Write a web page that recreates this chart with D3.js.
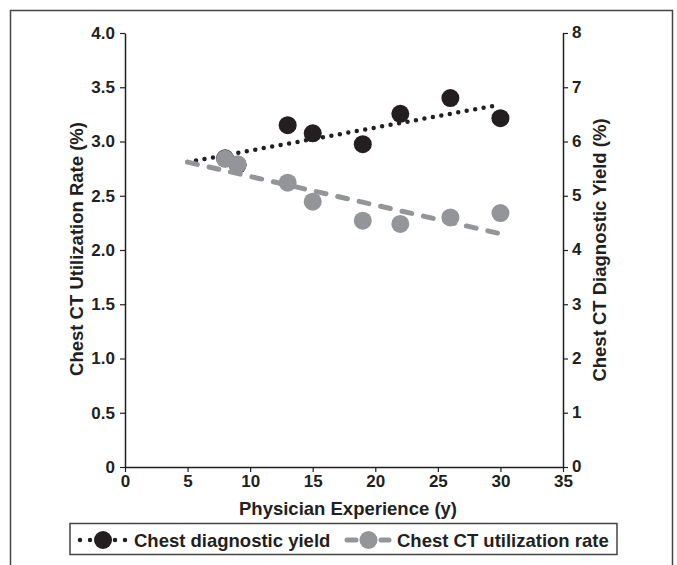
<!DOCTYPE html>
<html><head><meta charset="utf-8">
<script src="https://cdn.jsdelivr.net/npm/d3@7"></script>
<style>body{margin:0;background:#fff}svg{display:block}text{font-family:"Liberation Sans",Arial,Helvetica,sans-serif;font-weight:bold;fill:#231f20}</style>
</head><body>
<script>
const experience = [8, 9, 13, 15, 19, 22, 26, 30];
const diagnosticYield = [5.69, 5.57, 6.30, 6.15, 5.95, 6.51, 6.80, 6.43];
const utilizationRate = [2.84, 2.79, 2.62, 2.445, 2.27, 2.24, 2.30, 2.34];
const yieldTrend = [[5, 5.62], [30, 6.68]];
const rateTrend = [[5, 2.81], [30, 2.15]];
const xTicks = [0, 5, 10, 15, 20, 25, 30, 35];
const leftTicks = [0, 0.5, 1, 1.5, 2, 2.5, 3, 3.5, 4];
const rightTicks = [0, 1, 2, 3, 4, 5, 6, 7, 8];

const W = 677, H = 565;
const ink = "#231f20", grey = "#939598";
const FS = 18.5, TFS = 17;
const svg = d3.select("body").append("svg").attr("width", W).attr("height", H);

svg.append("rect").attr("x", 10.5).attr("y", 10.5).attr("width", 662).attr("height", 600)
  .attr("fill", "none").attr("stroke", "#444").attr("stroke-width", 1.5);

const x = d3.scaleLinear().domain([0, 35]).range([125, 563]);
const yL = d3.scaleLinear().domain([0, 4]).range([467, 33]);
const yR = d3.scaleLinear().domain([0, 8]).range([467, 33]);

function styleAxis(g) {
  g.selectAll(".domain").attr("stroke", ink).attr("stroke-width", 1.5);
  g.selectAll(".tick line").attr("stroke", ink).attr("stroke-width", 1.2);
  g.selectAll(".tick text").attr("font-size", TFS).attr("font-family", '"Liberation Sans",Arial,sans-serif')
    .attr("font-weight", "bold").attr("fill", ink);
}

const gx = svg.append("g").attr("transform", "translate(0,467)")
  .call(d3.axisBottom(x).tickValues(xTicks).tickSize(5).tickSizeOuter(0).tickPadding(3));
styleAxis(gx);
const gl = svg.append("g").attr("transform", "translate(125,0)")
  .call(d3.axisLeft(yL).tickValues(leftTicks).tickSize(5).tickSizeOuter(0).tickPadding(5).tickFormat(d => d === 0 ? "0" : d3.format(".1f")(d)));
styleAxis(gl);
const gr = svg.append("g").attr("transform", "translate(563,0)")
  .call(d3.axisRight(yR).tickValues(rightTicks).tickSize(5).tickSizeOuter(0).tickPadding(4));
styleAxis(gr);
gr.selectAll(".tick text").attr("dy", "0.28em");

svg.append("text").attr("x", 348).attr("y", 515).attr("text-anchor", "middle").attr("font-size", FS)
  .text("Physician Experience (y)");
svg.append("text").attr("transform", "translate(83,249) rotate(-90)").attr("text-anchor", "middle").attr("font-size", FS)
  .text("Chest CT Utilization Rate (%)");
svg.append("text").attr("transform", "translate(606,250) rotate(-90)").attr("text-anchor", "middle").attr("font-size", FS)
  .text("Chest CT Diagnostic Yield (%)");

const line = d3.line();
// yield series
svg.append("g").selectAll("circle").data(experience).join("circle")
  .attr("cx", d => x(d)).attr("cy", (d, i) => yR(diagnosticYield[i])).attr("r", 9).attr("fill", ink);
svg.append("path").attr("d", line(yieldTrend.map(p => [x(p[0]), yR(p[1])])))
  .attr("fill", "none").attr("stroke", ink).attr("stroke-width", 4.5).attr("stroke-linecap", "round")
  .attr("stroke-dasharray", "0 8.6");
// rate series
svg.append("g").selectAll("circle").data(experience).join("circle")
  .attr("cx", d => x(d)).attr("cy", (d, i) => yL(utilizationRate[i])).attr("r", 9).attr("fill", grey);
svg.append("path").attr("d", line(rateTrend.map(p => [x(p[0]), yL(p[1])])))
  .attr("fill", "none").attr("stroke", grey).attr("stroke-width", 5).attr("stroke-linecap", "round")
  .attr("stroke-dasharray", "10 12");

// legend
svg.append("rect").attr("x", 70).attr("y", 523.5).attr("width", 547).attr("height", 31)
  .attr("fill", "#fff").attr("stroke", "#444").attr("stroke-width", 1.5);
const ly = 540;
svg.append("path").attr("d", line([[80, ly], [125.5, ly]])).attr("stroke", ink).attr("stroke-width", 4.5)
  .attr("stroke-linecap", "round").attr("stroke-dasharray", "0 10 0 25 0 10").attr("fill", "none");
svg.append("circle").attr("cx", 103).attr("cy", ly).attr("r", 9).attr("fill", ink);
svg.append("text").attr("x", 134).attr("y", ly + 6.5).attr("font-size", FS).text("Chest diagnostic yield");
[[347, 356], [381, 389]].forEach(s => {
  svg.append("path").attr("d", line([[s[0], ly], [s[1], ly]])).attr("stroke", grey).attr("stroke-width", 5)
    .attr("stroke-linecap", "round").attr("fill", "none");
});
svg.append("circle").attr("cx", 368.5).attr("cy", ly).attr("r", 9).attr("fill", grey);
svg.append("text").attr("x", 397).attr("y", ly + 6.5).attr("font-size", FS).text("Chest CT utilization rate");
</script>
</body></html>
